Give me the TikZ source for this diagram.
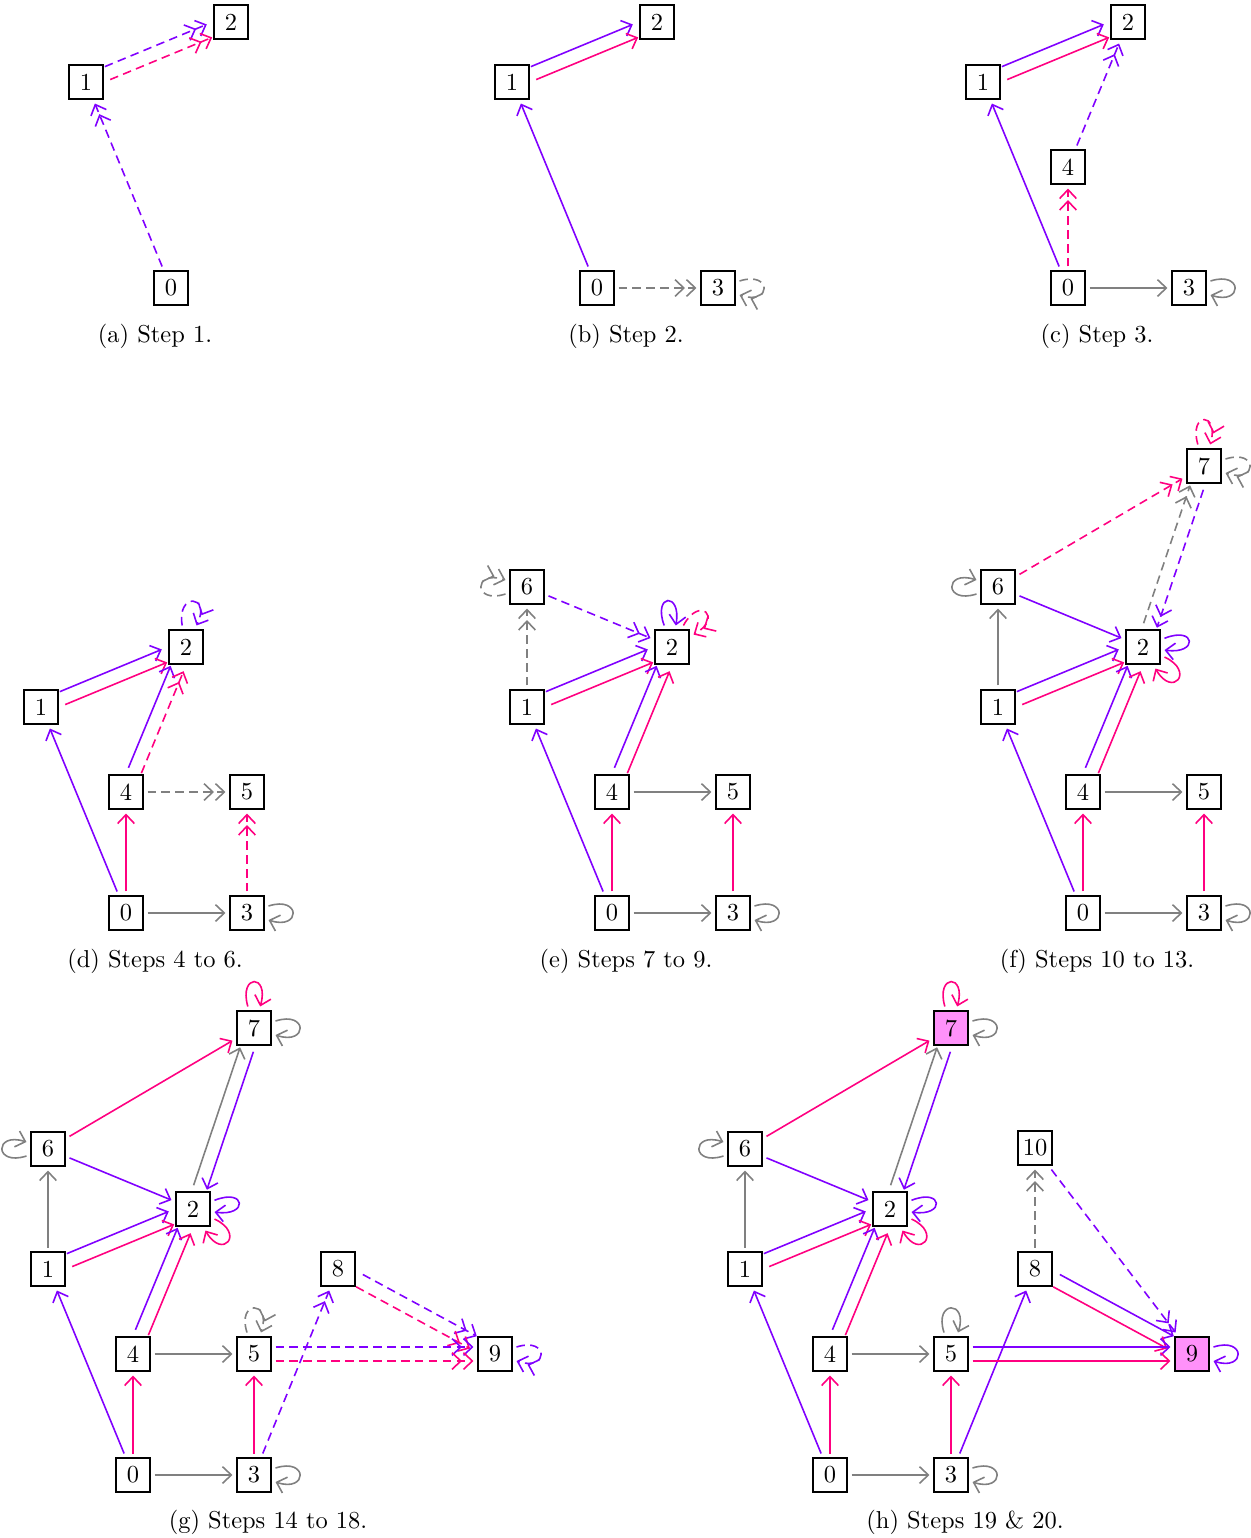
\documentclass[tikz,border=0pt]{standalone}
\usetikzlibrary{arrows.meta}
\definecolor{cvio}{RGB}{128,0,255}
\definecolor{cpink}{RGB}{255,0,128}
\definecolor{cgray}{RGB}{128,128,128}
\definecolor{npink}{RGB}{255,145,250}
\tikzset{
  nd/.style={draw, line width=0.8pt, minimum size=13.6pt, inner sep=1pt, outer sep=2pt},
  hl/.style={fill=npink},
  tipa/.tip={Straight Barb[length=3.6pt,width=6.8pt,line width=0.65pt]},
  sol/.style={line width=0.65pt, -{tipa}},
  dsh/.style={line width=0.65pt, dash pattern=on 3.5pt off 2.2pt, -{tipa[sep=0.3pt]tipa}},
  cv/.style={draw=cvio},
  cp/.style={draw=cpink},
  cg/.style={draw=cgray},
  offs/.style={transform canvas={shift={#1}}},
  lpr/.style={out=18,in=-18,distance=14pt},
  lpl/.style={out=198,in=162,distance=14pt},
  lpt/.style={out=108,in=72,distance=14pt},
  captext/.style={inner sep=0pt},
}
\begin{document}
\begin{tikzpicture}[x=0.409pt,y=0.409pt]
\useasboundingbox (0,0) rectangle (1250,-1538);

% ---------- (a)
\begin{scope}[shift={(171,-288)}]
\node[nd] (a0) at (0,0) {0};
\node[nd] (a1) at (-85,206) {1};
\node[nd] (a2) at (60,266) {2};
\draw[dsh,cv] (a0) -- (a1);
\draw[dsh,cv,offs={(-2.68,6.47)}] (a1) -- (a2);
\draw[dsh,cp,offs={(2.68,-6.47)}] (a1) -- (a2);
\end{scope}
\node[captext] (capa) at (155,-336) {(a) Step 1.};

% ---------- (b)
\begin{scope}[shift={(597,-288)}]
\node[nd] (b0) at (0,0) {0};
\node[nd] (b1) at (-85,206) {1};
\node[nd] (b2) at (60,266) {2};
\node[nd] (b3) at (121,0) {3};
\draw[sol,cv] (b0) -- (b1);
\draw[sol,cv,offs={(-2.68,6.47)}] (b1) -- (b2);
\draw[sol,cp,offs={(2.68,-6.47)}] (b1) -- (b2);
\draw[dsh,cg] (b0) -- (b3);
\draw[dsh,cg] (b3) to[lpr] (b3);
\end{scope}
\node[captext] (capb) at (626,-336) {(b) Step 2.};

% ---------- (c)
\begin{scope}[shift={(1068,-288)}]
\node[nd] (c0) at (0,0) {0};
\node[nd] (c1) at (-85,206) {1};
\node[nd] (c2) at (60,266) {2};
\node[nd] (c3) at (121,0) {3};
\node[nd] (c4) at (0,121) {4};
\draw[sol,cv] (c0) -- (c1);
\draw[sol,cv,offs={(-2.68,6.47)}] (c1) -- (c2);
\draw[sol,cp,offs={(2.68,-6.47)}] (c1) -- (c2);
\draw[sol,cg] (c0) -- (c3);
\draw[sol,cg] (c3) to[lpr] (c3);
\draw[dsh,cp] (c0) -- (c4);
\draw[dsh,cv] (c4) -- (c2);
\end{scope}
\node[captext] (capc) at (1097,-336) {(c) Step 3.};

% ---------- (d)
\begin{scope}[shift={(126,-913)}]
\node[nd] (d0) at (0,0) {0};
\node[nd] (d1) at (-85,206) {1};
\node[nd] (d2) at (60,266) {2};
\node[nd] (d3) at (121,0) {3};
\node[nd] (d4) at (0,121) {4};
\node[nd] (d5) at (121,121) {5};
\draw[sol,cv] (d0) -- (d1);
\draw[sol,cv,offs={(-2.68,6.47)}] (d1) -- (d2);
\draw[sol,cp,offs={(2.68,-6.47)}] (d1) -- (d2);
\draw[sol,cp] (d0) -- (d4);
\draw[sol,cv,offs={(-6.47,2.68)}] (d4) -- (d2);
\draw[dsh,cp,offs={(6.47,-2.68)}] (d4) -- (d2);
\draw[sol,cg] (d0) -- (d3);
\draw[sol,cg] (d3) to[lpr] (d3);
\draw[dsh,cg] (d4) -- (d5);
\draw[dsh,cp] (d3) -- (d5);
\draw[dsh,cv] (d2) to[out=100,in=64,distance=14pt] (d2);
\end{scope}
\node[captext] (capd) at (155,-961) {(d) Steps 4 to 6.};

% ---------- (e)
\begin{scope}[shift={(612,-913)}]
\node[nd] (e0) at (0,0) {0};
\node[nd] (e1) at (-85,206) {1};
\node[nd] (e2) at (60,266) {2};
\node[nd] (e3) at (121,0) {3};
\node[nd] (e4) at (0,121) {4};
\node[nd] (e5) at (121,121) {5};
\node[nd] (e6) at (-85,326) {6};
\draw[sol,cv] (e0) -- (e1);
\draw[sol,cv,offs={(-2.68,6.47)}] (e1) -- (e2);
\draw[sol,cp,offs={(2.68,-6.47)}] (e1) -- (e2);
\draw[sol,cp] (e0) -- (e4);
\draw[sol,cv,offs={(-6.47,2.68)}] (e4) -- (e2);
\draw[sol,cp,offs={(6.47,-2.68)}] (e4) -- (e2);
\draw[sol,cg] (e0) -- (e3);
\draw[sol,cg] (e3) to[lpr] (e3);
\draw[sol,cg] (e4) -- (e5);
\draw[sol,cp] (e3) -- (e5);
\draw[sol,cv] (e2) to[out=110,in=80,distance=14pt] (e2);
\draw[dsh,cp] (e2) to[out=62,in=30,distance=14pt] (e2);
\draw[dsh,cg] (e1) -- (e6);
\draw[dsh,cg] (e6) to[lpl] (e6);
\draw[dsh,cv] (e6) -- (e2);
\end{scope}
\node[captext] (cape) at (626,-961) {(e) Steps 7 to 9.};

% ---------- (f)
\begin{scope}[shift={(1083,-913)}]
\node[nd] (f0) at (0,0) {0};
\node[nd] (f1) at (-85,206) {1};
\node[nd] (f2) at (60,266) {2};
\node[nd] (f3) at (121,0) {3};
\node[nd] (f4) at (0,121) {4};
\node[nd] (f5) at (121,121) {5};
\node[nd] (f6) at (-85,326) {6};
\node[nd] (f7) at (121,447) {7};
\draw[sol,cv] (f0) -- (f1);
\draw[sol,cv,offs={(-2.68,6.47)}] (f1) -- (f2);
\draw[sol,cp,offs={(2.68,-6.47)}] (f1) -- (f2);
\draw[sol,cp] (f0) -- (f4);
\draw[sol,cv,offs={(-6.47,2.68)}] (f4) -- (f2);
\draw[sol,cp,offs={(6.47,-2.68)}] (f4) -- (f2);
\draw[sol,cg] (f0) -- (f3);
\draw[sol,cg] (f3) to[lpr] (f3);
\draw[sol,cg] (f4) -- (f5);
\draw[sol,cp] (f3) -- (f5);
\draw[sol,cg] (f1) -- (f6);
\draw[sol,cg] (f6) to[lpl] (f6);
\draw[sol,cv] (f6) -- (f2);
\draw[sol,cv] (f2) to[out=22,in=-8,distance=14pt] (f2);
\draw[sol,cp] (f2) to[out=-25,in=-60,distance=14pt] (f2);
\draw[dsh,cp] (f6) -- (f7);
\draw[dsh,cg,offs={(-6.63,2.24)}] (f2) -- (f7);
\draw[dsh,cv,offs={(6.63,-2.24)}] (f7) -- (f2);
\draw[dsh,cp] (f7) to[out=106,in=74,distance=14pt] (f7);
\draw[dsh,cg] (f7) to[lpr] (f7);
\end{scope}
\node[captext] (capf) at (1097,-961) {(f) Steps 10 to 13.};

% ---------- (g)
\begin{scope}[shift={(133,-1475)}]
\node[nd] (g0) at (0,0) {0};
\node[nd] (g1) at (-85,206) {1};
\node[nd] (g2) at (60,266) {2};
\node[nd] (g3) at (121,0) {3};
\node[nd] (g4) at (0,121) {4};
\node[nd] (g5) at (121,121) {5};
\node[nd] (g6) at (-85,326) {6};
\node[nd] (g7) at (121,447) {7};
\node[nd] (g8) at (205,206) {8};
\node[nd] (g9) at (362,121) {9};
\draw[sol,cv] (g0) -- (g1);
\draw[sol,cv,offs={(-2.68,6.47)}] (g1) -- (g2);
\draw[sol,cp,offs={(2.68,-6.47)}] (g1) -- (g2);
\draw[sol,cp] (g0) -- (g4);
\draw[sol,cv,offs={(-6.47,2.68)}] (g4) -- (g2);
\draw[sol,cp,offs={(6.47,-2.68)}] (g4) -- (g2);
\draw[sol,cg] (g0) -- (g3);
\draw[sol,cg] (g3) to[lpr] (g3);
\draw[sol,cg] (g4) -- (g5);
\draw[sol,cp] (g3) -- (g5);
\draw[sol,cg] (g1) -- (g6);
\draw[sol,cg] (g6) to[lpl] (g6);
\draw[sol,cv] (g6) -- (g2);
\draw[sol,cv] (g2) to[out=22,in=-8,distance=14pt] (g2);
\draw[sol,cp] (g2) to[out=-25,in=-60,distance=14pt] (g2);
\draw[sol,cp] (g6) -- (g7);
\draw[sol,cg,offs={(-6.63,2.24)}] (g2) -- (g7);
\draw[sol,cv,offs={(6.63,-2.24)}] (g7) -- (g2);
\draw[sol,cp] (g7) to[out=106,in=74,distance=14pt] (g7);
\draw[sol,cg] (g7) to[lpr] (g7);
\draw[dsh,cg] (g5) to[lpt] (g5);
\draw[dsh,cv] (g3) -- (g8);
\draw[dsh,cv,offs={(3.33,6.16)}] (g8) -- (g9);
\draw[dsh,cp,offs={(-3.33,-6.16)}] (g8) -- (g9);
\draw[dsh,cv,offs={(0,7)}] (g5) -- (g9);
\draw[dsh,cp,offs={(0,-7)}] (g5) -- (g9);
\draw[dsh,cv] (g9) to[lpr] (g9);
\end{scope}
\node[captext] (capg) at (268,-1522) {(g) Steps 14 to 18.};

% ---------- (h)
\begin{scope}[shift={(830,-1475)}]
\node[nd] (h0) at (0,0) {0};
\node[nd] (h1) at (-85,206) {1};
\node[nd] (h2) at (60,266) {2};
\node[nd] (h3) at (121,0) {3};
\node[nd] (h4) at (0,121) {4};
\node[nd] (h5) at (121,121) {5};
\node[nd] (h6) at (-85,326) {6};
\node[nd,hl] (h7) at (121,447) {7};
\node[nd] (h8) at (205,206) {8};
\node[nd,hl] (h9) at (362,121) {9};
\node[nd] (h10) at (205,327) {10};
\draw[sol,cv] (h0) -- (h1);
\draw[sol,cv,offs={(-2.68,6.47)}] (h1) -- (h2);
\draw[sol,cp,offs={(2.68,-6.47)}] (h1) -- (h2);
\draw[sol,cp] (h0) -- (h4);
\draw[sol,cv,offs={(-6.47,2.68)}] (h4) -- (h2);
\draw[sol,cp,offs={(6.47,-2.68)}] (h4) -- (h2);
\draw[sol,cg] (h0) -- (h3);
\draw[sol,cg] (h3) to[lpr] (h3);
\draw[sol,cg] (h4) -- (h5);
\draw[sol,cp] (h3) -- (h5);
\draw[sol,cg] (h1) -- (h6);
\draw[sol,cg] (h6) to[lpl] (h6);
\draw[sol,cv] (h6) -- (h2);
\draw[sol,cv] (h2) to[out=22,in=-8,distance=14pt] (h2);
\draw[sol,cp] (h2) to[out=-25,in=-60,distance=14pt] (h2);
\draw[sol,cp] (h6) -- (h7);
\draw[sol,cg,offs={(-6.63,2.24)}] (h2) -- (h7);
\draw[sol,cv,offs={(6.63,-2.24)}] (h7) -- (h2);
\draw[sol,cp] (h7) to[out=106,in=74,distance=14pt] (h7);
\draw[sol,cg] (h7) to[lpr] (h7);
\draw[sol,cg] (h5) to[lpt] (h5);
\draw[sol,cv] (h3) -- (h8);
\draw[sol,cv,offs={(3.33,6.16)}] (h8) -- (h9);
\draw[sol,cp,offs={(-3.33,-6.16)}] (h8) -- (h9);
\draw[sol,cv,offs={(0,7)}] (h5) -- (h9);
\draw[sol,cp,offs={(0,-7)}] (h5) -- (h9);
\draw[sol,cv] (h9) to[lpr] (h9);
\draw[dsh,cg] (h8) -- (h10);
\draw[dsh,cv] (h10) -- (h9);
\end{scope}
\node[captext] (caph) at (965,-1522) {(h) Steps 19 \& 20.};
\end{tikzpicture}
\end{document}
